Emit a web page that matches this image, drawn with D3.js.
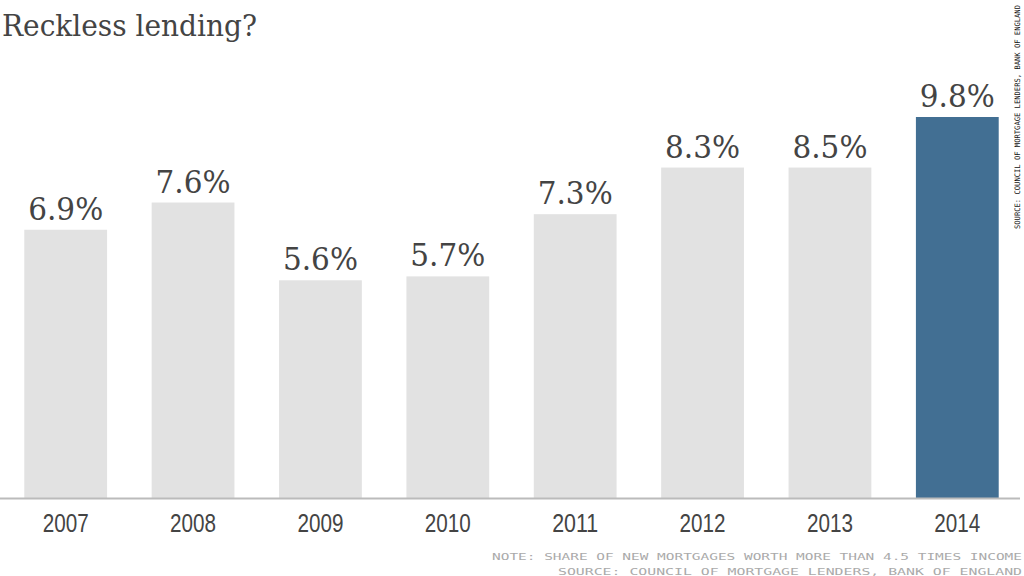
<!DOCTYPE html>
<html>
<head>
<meta charset="utf-8">
<script src="https://cdn.jsdelivr.net/npm/d3@7"></script>
<style>
  body { margin: 0; background: #fff; }
  svg { display: block; }
</style>
</head>
<body>
<div id="chart"></div>
<script>
// data
var years = ["2007", "2008", "2009", "2010", "2011", "2012", "2013", "2014"];
// bar heights as drawn (the 2012 bar is drawn level with 2013)
var barHeights = [6.9, 7.6, 5.6, 5.7, 7.3, 8.5, 8.5, 9.8];
// printed labels
var labels = ["6.9%", "7.6%", "5.6%", "5.7%", "7.3%", "8.3%", "8.5%", "9.8%"];
var highlightYear = "2014";

var width = 1024, height = 576;

var svg = d3.select("#chart")
    .append("svg")
    .attr("width", width)
    .attr("height", height);

var x = d3.scaleBand().domain(years).range([2, 1021]).paddingInner(0.35).paddingOuter(0.175);
var y = d3.scaleLinear().domain([0, 9.8]).range([498, 117]);

// title
svg.append("text")
    .attr("x", 2).attr("y", 36)
    .attr("textLength", 255)
    .attr("lengthAdjust", "spacingAndGlyphs")
    .text("Reckless lending?")
    .style("font-family", "'DejaVu Serif', serif")
    .style("font-size", "30px")
    .attr("fill", "#444");

// bars
svg.selectAll(".bar")
  .data(years)
  .enter().append("rect")
    .attr("class", "bar")
    .attr("x", function(d) { return x(d); })
    .attr("width", x.bandwidth())
    .attr("y", function(d, i) { return y(barHeights[i]); })
    .attr("height", function(d, i) { return y(0) - y(barHeights[i]); })
    .attr("fill", function(d) { return d == highlightYear ? "#426f93" : "#e2e2e2"; });

// value labels
svg.selectAll(".val")
  .data(years)
  .enter().append("text")
    .attr("class", "val")
    .attr("x", function(d) { return x(d) + x.bandwidth() / 2; })
    .attr("y", function(d, i) { return y(barHeights[i]) - 10; })
    .attr("text-anchor", "middle")
    .attr("textLength", 75)
    .attr("lengthAdjust", "spacingAndGlyphs")
    .text(function(d, i) { return labels[i]; })
    .style("font-family", "'DejaVu Serif', serif")
    .style("font-size", "31px")
    .attr("fill", "#444");

// baseline + year axis
var xAxis = svg.append("g")
    .attr("transform", "translate(0," + y(0) + ")")
    .call(d3.axisBottom(x).tickSize(0).tickPadding(16));
xAxis.select(".domain").remove();
xAxis.selectAll("text")
    .attr("textLength", 46)
    .attr("lengthAdjust", "spacingAndGlyphs")
    .style("font-family", "'Liberation Sans', sans-serif")
    .style("font-size", "25px")
    .attr("fill", "#444");

svg.append("line")
    .attr("x1", 0).attr("x2", 1020)
    .attr("y1", y(0) + 0.5).attr("y2", y(0) + 0.5)
    .attr("stroke", "#bbb")
    .attr("stroke-width", 2);

// source along the right edge
svg.append("text")
    .attr("transform", "translate(1020,5) rotate(-90)")
    .attr("text-anchor", "end")
    .attr("textLength", 224)
    .attr("lengthAdjust", "spacingAndGlyphs")
    .text("SOURCE: COUNCIL OF MORTGAGE LENDERS, BANK OF ENGLAND")
    .style("font-family", "'DejaVu Sans Mono', monospace")
    .style("font-size", "7.5px")
    .attr("fill", "#111");

// footnote
svg.append("text")
    .attr("x", 492).attr("y", 560)
    .attr("textLength", 530)
    .attr("lengthAdjust", "spacingAndGlyphs")
    .text("NOTE: SHARE OF NEW MORTGAGES WORTH MORE THAN 4.5 TIMES INCOME")
    .style("font-family", "'DejaVu Sans Mono', monospace")
    .style("font-size", "9px")
    .attr("fill", "#aaa");
svg.append("text")
    .attr("x", 558).attr("y", 575)
    .attr("textLength", 464)
    .attr("lengthAdjust", "spacingAndGlyphs")
    .text("SOURCE: COUNCIL OF MORTGAGE LENDERS, BANK OF ENGLAND")
    .style("font-family", "'DejaVu Sans Mono', monospace")
    .style("font-size", "9px")
    .attr("fill", "#aaa");
</script>
</body>
</html>
